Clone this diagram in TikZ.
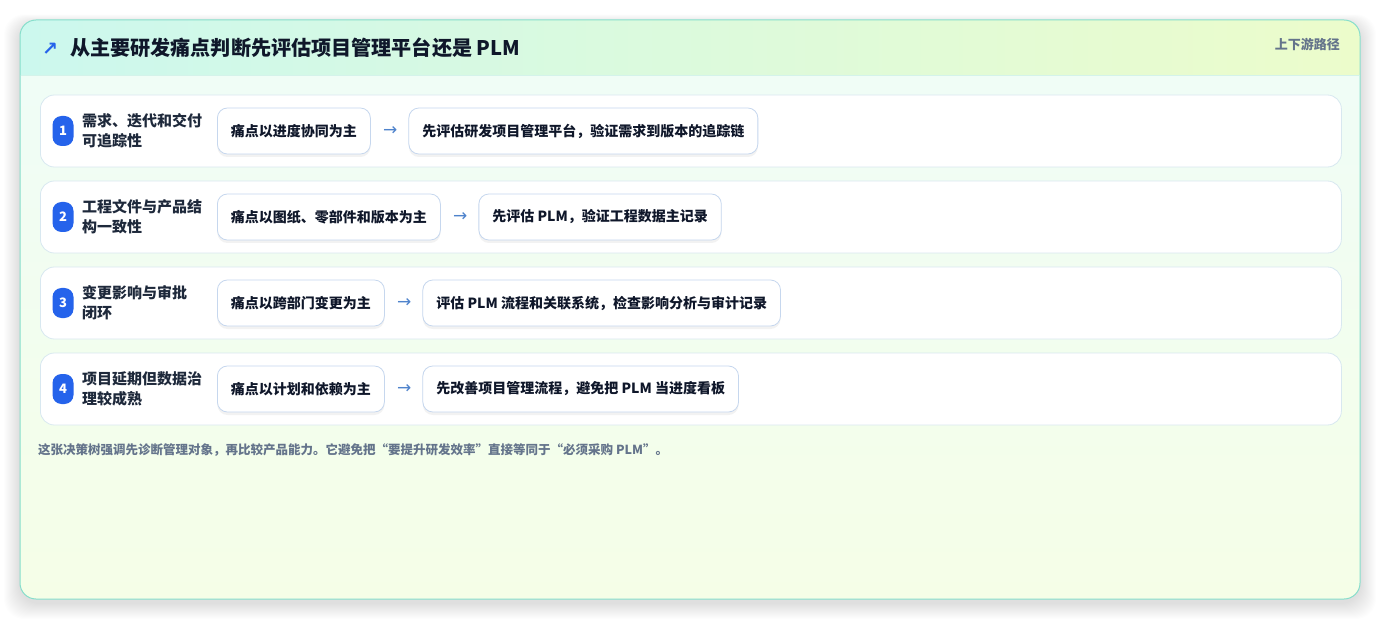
\documentclass[tikz,border=0pt]{standalone}
\usepackage{fontspec}
\setmainfont{Noto Sans CJK SC}
\newfontfamily\symfont{DejaVu Sans}
\usetikzlibrary{positioning,shadows}
\definecolor{cardborder}{HTML}{86DECB}
\definecolor{hdrL}{HTML}{CCF8EE}
\definecolor{hdrR}{HTML}{ECFCCB}
\definecolor{bodyT}{HTML}{EFFDF8}
\definecolor{bodyB}{HTML}{F5FEE7}
\definecolor{hdrline}{HTML}{D4F3EA}
\definecolor{ink}{HTML}{0F172A}
\definecolor{labelink}{HTML}{1E293B}
\definecolor{slate}{HTML}{64748B}
\definecolor{badgeblue}{HTML}{2563EB}
\definecolor{rowline}{HTML}{D8E8F0}
\definecolor{boxline}{HTML}{C6D7EE}
\definecolor{arrowblue}{HTML}{4F83CC}
\tikzset{
  rowbox/.style={draw=rowline, fill=white, line width=0.8pt, rounded corners=14pt,
    minimum width=1301pt, minimum height=72pt, inner sep=0pt, anchor=west},
  badge/.style={fill=badgeblue, rounded corners=9pt, minimum width=21pt, minimum height=30pt,
    inner sep=0pt, text=white, font=\bfseries\fontsize{13}{13}\selectfont},
  rowlabel/.style={anchor=west, align=left, inner sep=0pt, text=labelink,
    font=\bfseries\fontsize{15}{20}\selectfont},
  pbox/.style={draw=boxline, fill=white, line width=0.8pt, rounded corners=10pt,
    minimum height=46pt, inner xsep=13.5pt, inner ysep=0pt, text=ink,
    font=\bfseries\fontsize{14}{14}\selectfont,
    drop shadow={shadow xshift=0pt, shadow yshift=-3pt, opacity=0.05, fill=black}},
  arrowglyph/.style={inner sep=0pt, text=arrowblue, font=\symfont\fontsize{17}{17}\selectfont},
}
\newcommand\decisionrow[7]{%
  \node[rowbox] (row#1) at (40,#2) {};
  \node[badge] (bd#1) at (63,#2) {#1};
  \node[rowlabel] (lb#1) at (82,#2) {#3\\#4};
  \node[pbox, anchor=west] (p#1) at (217,#2) {#5};
  \node[arrowglyph, right=12pt of p#1] (ar#1) {→};
  \node[pbox, right=11pt of ar#1] (q#1) {#6};
}
\begin{document}
\begin{tikzpicture}[x=1pt,y=-1pt]
\useasboundingbox (0,0) rectangle (1381,620);
\fill[white] (0,0) rectangle (1381,620);
% outer shadow
\foreach \i in {1,...,16}{
  \fill[black,opacity=0.006,rounded corners=20pt] (20-\i,24-0.6*\i) rectangle (1360+\i,603+\i);
}
% card body
\shade[top color=bodyT, bottom color=bodyB, rounded corners=16pt] (20,20) rectangle (1360,599);
\begin{scope}
  \clip[rounded corners=16pt] (20,20) rectangle (1360,599);
  \shade[left color=hdrL, right color=hdrR] (20,20) rectangle (1360,75);
\end{scope}
\draw[hdrline, line width=1pt] (21,75.5) -- (1359,75.5);
\draw[cardborder, line width=1pt, rounded corners=16pt] (20,20) rectangle (1360,599);
% header
\node[anchor=west, inner sep=0pt, text=badgeblue, font=\symfont\bfseries\fontsize{19}{19}\selectfont] (harrow) at (42,49) {↗};
\node[anchor=west, inner sep=0pt, text=ink, font=\bfseries\fontsize{20.1}{20}\selectfont] (title) at (70,48) {从主要研发痛点判断先评估项目管理平台还是 PLM};
\node[anchor=east, inner sep=0pt, text=slate, font=\bfseries\fontsize{13}{13}\selectfont] (tag) at (1340,44) {上下游路径};
% rows
\decisionrow{1}{131}{需求、迭代和交付}{可追踪性}{痛点以进度协同为主}{先评估研发项目管理平台，验证需求到版本的追踪链}{}
\decisionrow{2}{217}{工程文件与产品结}{构一致性}{痛点以图纸、零部件和版本为主}{先评估 PLM，验证工程数据主记录}{}
\decisionrow{3}{303}{变更影响与审批}{闭环}{痛点以跨部门变更为主}{评估 PLM 流程和关联系统，检查影响分析与审计记录}{}
\decisionrow{4}{389}{项目延期但数据治}{理较成熟}{痛点以计划和依赖为主}{先改善项目管理流程，避免把 PLM 当进度看板}{}
% footer
\node[anchor=west, inner sep=0pt, text=slate, font=\bfseries\fontsize{12.5}{12.5}\selectfont] (note) at (38,450) {这张决策树强调先诊断管理对象，再比较产品能力。它避免把“要提升研发效率”直接等同于“必须采购 PLM”。};
\end{tikzpicture}
\end{document}
